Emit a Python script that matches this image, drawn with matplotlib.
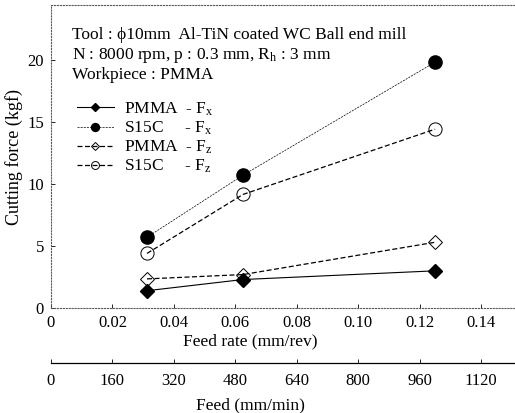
import numpy as np
import matplotlib
matplotlib.use('Agg')
import matplotlib.pyplot as plt

plt.rcParams['font.family'] = ['Liberation Serif', 'DejaVu Serif']
plt.rcParams['mathtext.fontset'] = 'custom'
plt.rcParams['mathtext.rm'] = 'Liberation Serif'
plt.rcParams['mathtext.it'] = 'Liberation Serif:italic'

#%% data
feed_rate = [0.03125, 0.0625, 0.125]   # mm/rev (250, 500, 1000 mm/min at 8000 rpm)
pmma_fx = [1.4, 2.3, 3.0]
s15c_fx = [5.7, 10.7, 19.8]
pmma_fz = [2.35, 2.7, 5.3]
s15c_fz = [4.4, 9.15, 14.4]
rpm = 8000

xticks = [0, 0.02, 0.04, 0.06, 0.08, 0.10, 0.12, 0.14]
xticklabels = ['0', '0.02', '0.04', '0.06', '0.08', '0.10', '0.12', '0.14']
yticks = [0, 5, 10, 15, 20]
feed_ticks = [0, 160, 320, 480, 640, 800, 960, 1120]

#%% figure
fig = plt.figure(figsize=(5.15, 4.13), dpi=100)
ax = fig.add_axes([0.099, 0.254, 0.901, 0.734])

ax.plot(feed_rate, pmma_fx, 'k-', lw=0.8, marker='D', ms=7.5, mfc='k', label='PMMA  - $\\mathregular{F_x}$')
ax.plot(feed_rate, s15c_fx, color='k', ls=(0, (3, 1.5)), lw=0.5, marker='o', ms=9.5, mfc='k', label='S15C     - $\\mathregular{F_x}$')
ax.plot(feed_rate, pmma_fz, 'k', ls=(0, (4, 2)), lw=0.9, marker='D', ms=7.5, mfc='none', mew=0.7, label='PMMA  - $\\mathregular{F_z}$')
ax.plot(feed_rate, s15c_fz, 'k', ls=(0, (4, 2)), lw=0.9, marker='o', ms=9.5, mfc='none', mew=0.7, label='S15C     - $\\mathregular{F_z}$')

ax.set_xlim(0, 0.151)
ax.set_ylim(0, 24.4)
ax.set_xticks(xticks)
ax.set_xticklabels(xticklabels)
ax.set_yticks(yticks)
ax.tick_params(direction='in', length=3, width=0.6, labelsize=12, pad=5)
for s in ['top', 'left', 'bottom']:
    ax.spines[s].set_linestyle(':')
    ax.spines[s].set_linewidth(0.8)
    ax.spines[s].set_color('0.35')
ax.spines['right'].set_visible(False)

ax.set_xlabel('Feed rate (mm/rev)', fontsize=12.5, labelpad=2, x=0.43)
ax.set_ylabel('Cutting force (kgf)', fontsize=13, labelpad=3)

ax.text(0.045, 0.902, 'Tool : \u03d510mm  Al-TiN coated WC Ball end mill', transform=ax.transAxes, fontsize=12.5, va='center')
ax.text(0.045, 0.833, 'N : 8000 rpm, p : 0.3 mm, $\\mathregular{R_h}$ : 3 mm', transform=ax.transAxes, fontsize=12.5, va='center')
ax.text(0.045, 0.77, 'Workpiece : PMMA', transform=ax.transAxes, fontsize=12.5, va='center')

leg = ax.legend(loc='upper left', bbox_to_anchor=(0.03, 0.725), frameon=False, fontsize=12.5,
                handlelength=2.1, handletextpad=0.6, labelspacing=0.1, markerscale=0.6, borderpad=0.2)

#%% second axis: feed in mm/min
sec = ax.secondary_xaxis(-0.182, functions=(lambda x: x * rpm, lambda x: x / rpm))
sec.set_xticks(feed_ticks)
sec.tick_params(direction='in', length=3, width=0.6, labelsize=12, pad=7)
sec.spines['bottom'].set_linewidth(0.9)
sec.set_xlabel('Feed (mm/min)', fontsize=12.5, labelpad=6, x=0.43)

plt.savefig('out.png', dpi=100)
